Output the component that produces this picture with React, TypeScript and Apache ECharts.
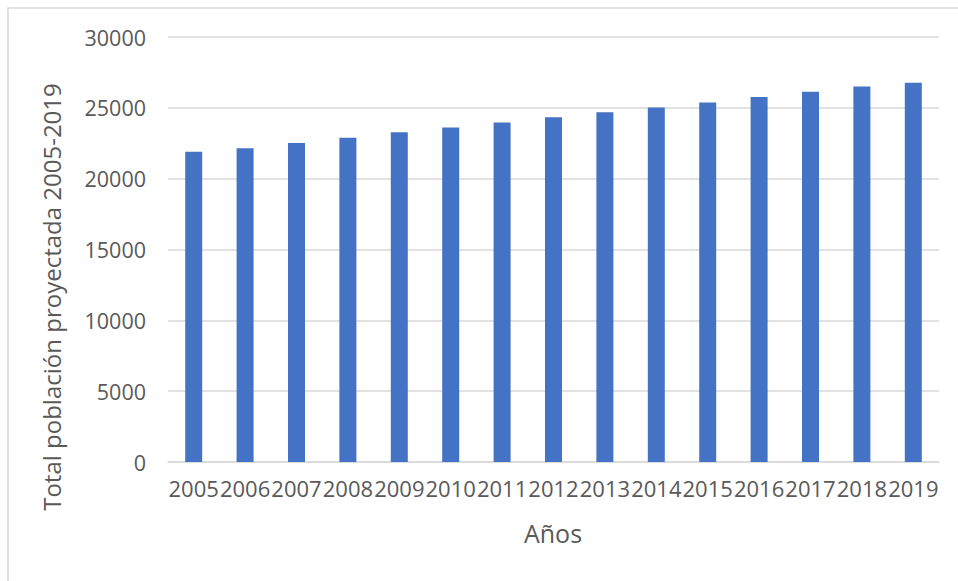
import React, { useEffect, useRef } from "react";
import * as echarts from "echarts";

const years = ["2005","2006","2007","2008","2009","2010","2011","2012","2013","2014","2015","2016","2017","2018","2019"];
const population = [21900,22140,22510,22890,23270,23620,23970,24330,24680,25030,25380,25760,26130,26510,26770];
const yTicks = [0, 30000, 5000];

const FONT = "'Open Sans', 'Noto Sans', sans-serif";
const TEXT = "#595959";

export default function App() {
  const ref = useRef<HTMLDivElement>(null);
  useEffect(() => {
    if (!ref.current) return;
    const chart = echarts.init(ref.current, null, { renderer: "svg" });
    chart.setOption({
      animation: false,
      backgroundColor: "#ffffff",
      grid: { left: 168, right: 19, top: 37, bottom: 119, containLabel: false },
      xAxis: {
        type: "category",
        data: years,
        axisLine: { lineStyle: { color: "#D9D9D9", width: 1.5 } },
        axisTick: { show: false },
        axisLabel: { interval: 0, color: TEXT, fontFamily: FONT, fontSize: 22, margin: 15 },
      },
      yAxis: {
        type: "value",
        min: yTicks[0],
        max: yTicks[1],
        interval: yTicks[2],
        axisLine: { show: false },
        axisTick: { show: false },
        splitLine: { lineStyle: { color: "#D9D9D9", width: 1.5 } },
        axisLabel: {
          color: TEXT,
          fontFamily: FONT,
          fontSize: 21.5,
          margin: 22,
          formatter: (v: number) => String(v),
        },
      },
      series: [
        {
          type: "bar",
          data: population,
          barWidth: 17,
          itemStyle: { color: "#4472C4" },
        },
      ],
      graphic: [
        {
          type: "rect",
          shape: { x: 8, y: 8, width: 1000, height: 1000 },
          style: { fill: "none", stroke: "#D9D9D9", lineWidth: 1.5 },
          silent: true,
          z: -1,
        },
        {
          type: "text",
          x: 51,
          y: 297,
          rotation: Math.PI / 2,
          style: {
            text: "Total población proyectada 2005-2019",
            fill: TEXT,
            font: `24px ${FONT}`,
            textAlign: "center",
            textVerticalAlign: "middle",
          },
        },
        {
          type: "text",
          x: 553,
          y: 533,
          style: {
            text: "Años",
            fill: TEXT,
            font: `25px ${FONT}`,
            textAlign: "center",
            textVerticalAlign: "middle",
          },
        },
      ],
    });
    return () => chart.dispose();
  }, []);
  return (
    <div
      ref={ref}
      style={{ position: "absolute", left: 0, top: 0, width: 958, height: 581 }}
    />
  );
}
